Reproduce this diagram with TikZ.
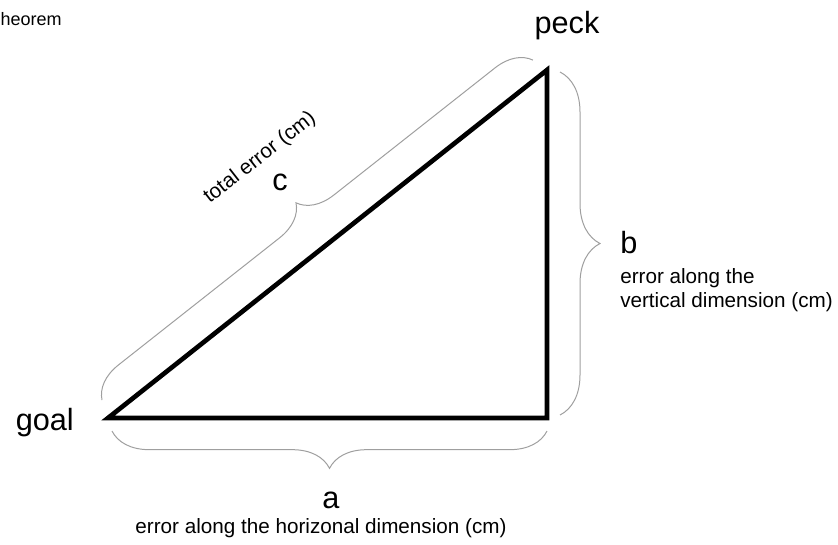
\documentclass[tikz,border=0pt]{standalone}
\usepackage{fontspec}
\setmainfont{Liberation Sans}
\usetikzlibrary{positioning, decorations.pathreplacing}

\begin{document}
\begin{tikzpicture}[x=0.75pt, y=-0.75pt,
    big/.style={font=\fontsize{23}{27}\selectfont, inner sep=0pt},
    small/.style={font=\fontsize{15.5}{18}\selectfont, inner sep=0pt},
    brace/.style={decorate, decoration={brace, amplitude=#1}, draw=gray!75, line width=0.75pt}]
    \useasboundingbox (0,0) rectangle (838,544);

    \coordinate (g) at (108,418);
    \coordinate (r) at (547,418);
    \coordinate (p) at (547,70);
    \draw[line width=3.5pt] (g) -- (r) -- (p) -- cycle;

    \draw[brace=28pt] (547,431) -- (112,431);
    \draw[brace=30pt] (560,72) -- (560,415);
    \draw[brace=26pt] (102,400) -- (533,60);

    \node[big, anchor=base] (peck) at (567,33) {peck};
    \node[big, anchor=base east] (goal) at (74,430) {goal};
    \node[small, anchor=base east, font=\fontsize{13.5}{16}\selectfont] (title) at (62,25) {heorem};

    \node[big, anchor=base] (a) at (331,508) {a};
    \node[small] (adesc) [below=7pt of a, xshift=-7.5pt] {error along the horizonal dimension (cm)};
    \node[big, anchor=base west] (b) at (620,253) {b};
    \node[small, align=left] (bdesc) [below=11pt of b.south west, anchor=north west] {error along the\\vertical dimension (cm)};
    \node[big, anchor=base] (c) at (280,190) {c};
    \node[small, rotate=38] (cdesc) at (260,158) {total error (cm)};
\end{tikzpicture}
\end{document}
